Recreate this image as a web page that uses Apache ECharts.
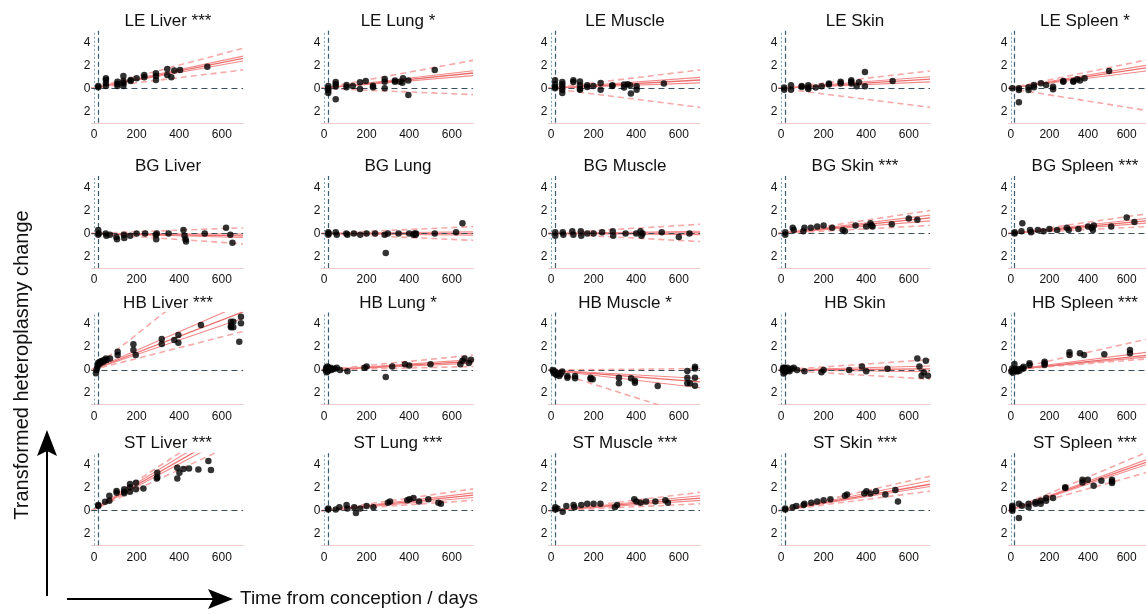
<!DOCTYPE html>
<html><head><meta charset="utf-8">
<script src="https://cdn.jsdelivr.net/npm/echarts@6/dist/echarts.min.js"></script>
<style>html,body{margin:0;padding:0;background:#fff}#c{width:1146px;height:614px}</style>
</head><body><div id="c"></div><script>
// ---------- data ----------
const rowNames = ['LE','BG','HB','ST'];
const colNames = ['Liver','Lung','Muscle','Skin','Spleen'];
const stars = [['***','*','','','*'],['','','','***','***'],['***','*','*','','***'],['***','***','***','***','***']];
const xTicks = [0,200,400,600];
const yTicks = [-2,0,2,4];
const birthDay = 20;
const fitX = [-12, 700];
const fitStart = 0;
// fit arrays: values at day 700 -> [dashLow, ciLow, fit, ciHigh, dashHigh]
const LE_Liver_t = [20,20,56,56,56,56,110,110,110,138,138,138,138,172,172,200,236,236,291,291,291,344,344,363,377,404,532];
const LE_Liver_v = [0.2,0.09,0.87,0.72,0.43,0.2,0.58,0.38,0.2,1.07,0.64,0.43,0.2,0.72,0.64,0.87,1.16,0.96,1.3,1.07,0.72,1.68,1.16,0.96,1.54,1.59,1.88];
const LE_Liver_fit = [1.6,2.38,2.6,2.8,3.48];
const LE_Lung_t = [20,20,20,20,55,55,55,55,106,106,135,169,169,196,230,230,285,285,285,333,333,357,368,371,396,396,520];
const LE_Lung_v = [0.2,0.0,-0.2,-0.4,0.55,0.35,0.15,-0.95,0.29,0.09,0.2,0.52,-0.06,0.64,0.23,0.09,0.81,0.58,0.0,0.67,0.58,0.58,0.49,0.87,0.67,-0.58,1.59];
const LE_Lung_fit = [-0.55,1.1,1.33,1.53,2.43];
const LE_Muscle_t = [19,19,19,19,53,53,53,53,53,105,105,136,136,136,136,170,170,199,233,233,288,288,343,343,360,371,375,402,402,530];
const LE_Muscle_v = [0.7,0.35,0.12,0.0,0.55,0.35,0.12,-0.12,-0.4,0.7,0.55,0.6,0.26,-0.03,-0.12,0.26,0.12,0.2,0.46,-0.12,0.26,0.2,0.32,0.06,0.35,0.26,-0.46,0.17,-0.12,0.41];
const LE_Muscle_fit = [-1.66,0.47,0.72,0.95,1.6];
const LE_Skin_t = [15,15,47,47,97,97,128,128,128,163,191,225,225,280,280,330,330,330,355,366,394,394,524];
const LE_Skin_v = [0.06,-0.12,0.26,-0.12,0.2,0.12,0.26,0.06,-0.06,0.06,0.17,0.41,0.32,0.58,0.41,0.7,0.55,0.41,0.17,0.52,1.42,0.17,0.64];
const LE_Skin_fit = [-1.66,0.56,0.8,1.01,1.51];
const LE_Spleen_t = [8,42,42,42,92,92,120,120,156,183,219,219,272,272,324,324,344,358,382,509];
const LE_Spleen_v = [0.0,0.0,-0.14,-1.22,0.09,-0.14,0.29,0.09,0.43,0.29,0.14,-0.09,0.64,0.58,0.64,0.58,0.78,0.67,0.87,1.51];
const LE_Spleen_fit = [-1.92,1.5,1.77,1.99,2.46];
const BG_Liver_t = [20,20,22,55,58,75,105,108,140,142,170,200,240,290,292,295,350,420,425,430,432,520,620,640,650];
const BG_Liver_v = [0.3,-0.1,0.0,0.0,-0.2,-0.1,-0.3,-0.5,-0.1,-0.4,-0.2,0.0,0.0,-0.1,-0.5,0.0,0.0,0.3,-0.2,-0.5,-0.7,0.0,0.5,-0.1,-0.8];
const BG_Liver_fit = [-0.9,-0.35,-0.2,-0.05,0.5];
const BG_Lung_t = [20,20,22,55,60,105,110,140,170,200,240,285,290,300,350,400,420,425,430,432,520,620,650];
const BG_Lung_v = [0.1,-0.1,0.0,0.1,-0.1,0.0,-0.1,0.0,-0.1,0.0,0.0,-0.1,-1.7,0.0,0.0,0.0,-0.1,0.0,-0.1,0.0,0.0,0.1,0.9];
const BG_Lung_fit = [-0.6,-0.15,0.0,0.15,0.6];
const BG_Muscle_t = [20,20,55,58,100,105,140,142,170,200,240,290,292,350,400,420,425,430,520,600,650];
const BG_Muscle_v = [0.1,-0.2,0.1,-0.1,0.2,-0.1,0.2,-0.2,0.0,0.0,0.1,0.2,-0.2,0.0,0.0,0.2,-0.2,0.0,0.1,-0.3,0.0];
const BG_Muscle_fit = [-0.7,-0.1,0.05,0.2,0.8];
const BG_Skin_t = [20,20,55,60,105,110,140,170,200,240,290,300,350,400,420,425,430,520,600,640];
const BG_Skin_v = [0.1,-0.1,0.5,0.3,0.2,0.5,0.5,0.6,0.7,0.5,0.3,0.2,0.7,0.6,0.9,0.7,0.6,0.8,1.3,1.2];
const BG_Skin_fit = [0.7,1.1,1.35,1.6,2.0];
const BG_Spleen_t = [20,20,55,60,100,105,140,170,200,240,290,300,350,400,420,425,430,520,600,640];
const BG_Spleen_v = [0.1,0.0,0.2,0.9,0.3,0.1,0.3,0.2,0.4,0.3,0.5,0.3,0.4,0.6,0.5,0.3,0.7,0.6,1.4,1.0];
const BG_Spleen_fit = [0.6,0.9,1.1,1.3,1.7];
const HB_Liver_t = [9,12,16,17,20,25,28,33,38,44,49,56,59,75,111,111,185,185,196,318,318,377,396,396,502,643,643,643,654,654,682,690,690];
const HB_Liver_v = [-0.29,0.0,0.23,0.43,0.64,0.52,0.72,0.64,0.81,0.72,0.87,1.01,0.87,1.01,1.59,1.3,2.23,1.74,1.3,2.7,2.26,2.61,3.04,2.38,3.91,4.2,3.83,3.71,4.2,3.71,2.46,4.64,4.06];
const HB_Liver_fit = [3.35,4.5,5.05,5.75,10.4];
const HB_Lung_t = [8,10,12,14,16,18,20,22,25,30,35,40,50,60,75,110,190,200,290,320,380,400,500,640,650,660,680,690];
const HB_Lung_v = [0,0.2,-0.2,0.1,0.3,-0.1,0.2,0,0.1,0.2,0,0.1,0.1,0.2,0,-0.1,0.2,0.3,-0.6,0.3,0.5,0.4,0.5,0.5,0.8,1.0,0.6,0.9];
const HB_Lung_fit = [0.3,0.6,0.75,0.9,1.3];
const HB_Muscle_t = [8,11,14,19,23,27,34,39,45,53,77,77,113,113,186,186,196,319,319,376,394,394,501,640,640,640,653,676,676,676,676];
const HB_Muscle_v = [0.0,-0.14,-0.29,-0.14,-0.35,-0.43,-0.29,-0.52,-0.35,-0.14,-0.52,-0.67,-0.52,-0.72,-0.67,-0.78,-0.81,-0.67,-1.16,-0.72,-0.93,-1.1,-1.39,-0.09,-0.67,-1.16,-1.16,0.29,0.14,-0.67,-1.36];
const HB_Muscle_fit = [-4.17,-1.55,-1.04,-0.74,0.12];
const HB_Skin_t = [8,10,12,14,16,18,20,22,25,30,35,40,50,60,75,110,190,200,320,380,400,500,640,650,660,670,680,690];
const HB_Skin_v = [0,0.2,-0.3,0.1,0.2,-0.2,0.1,-0.1,0.1,0.2,0,-0.1,0.1,0.2,0,-0.1,-0.2,0,0,0.3,-0.1,0.1,1.0,0.3,-0.5,-0.2,0.8,-0.5];
const HB_Skin_fit = [-0.8,-0.15,0.1,0.35,0.9];
const HB_Spleen_t = [3,8,11,16,19,23,27,34,39,45,58,66,66,97,97,175,175,175,304,304,358,379,484,617,617];
const HB_Spleen_v = [-0.14,0.14,-0.23,0.0,0.52,0.09,-0.09,-0.14,0.09,-0.06,0.14,0.29,0.14,0.58,0.43,0.72,0.58,0.43,1.54,1.3,1.45,1.3,1.36,1.74,1.45];
const HB_Spleen_fit = [0.96,1.12,1.28,1.53,2.66];
const ST_Liver_t = [20,20,52,72,72,106,106,142,142,142,169,169,169,197,197,232,295,297,297,391,391,401,420,446,490,537,549];
const ST_Liver_v = [0.49,0.41,0.78,1.3,0.87,1.71,1.57,1.86,1.65,1.51,2.32,2.03,1.65,2.43,1.86,1.94,2.81,2.9,3.3,3.74,2.81,3.3,3.62,3.68,3.59,4.32,3.54];
const ST_Liver_fit = [6.16,7.03,7.51,8.05,8.66];
const ST_Lung_t = [20,20,55,72,106,110,142,150,170,200,232,300,310,391,401,420,446,490,537,549];
const ST_Lung_v = [0.1,0.2,0.1,0.3,0.5,0.2,0.3,-0.2,0.2,0.4,0.3,0.7,0.8,0.9,1.0,1.1,0.8,1.0,0.7,0.6];
const ST_Lung_fit = [0.9,1.15,1.35,1.55,1.9];
const ST_Muscle_t = [20,20,30,55,72,106,110,142,170,200,232,300,310,391,401,420,446,490,537,549];
const ST_Muscle_v = [0.1,0.3,0.2,-0.1,0.4,0.5,0.3,0.5,0.6,0.6,0.6,0.3,0.5,1.0,0.8,0.7,0.8,0.8,0.9,0.7];
const ST_Muscle_fit = [0.6,0.9,1.1,1.3,1.6];
const ST_Skin_t = [20,20,55,72,106,110,142,170,200,232,300,310,391,401,420,446,490,537,549];
const ST_Skin_v = [0.1,0.2,0.3,0.4,0.5,0.6,0.7,0.8,0.9,1.0,1.3,1.4,1.5,1.7,1.5,1.7,1.4,1.8,0.8];
const ST_Skin_fit = [1.7,2.1,2.3,2.6,3.0];
const ST_Spleen_t = [8,8,8,8,42,42,58,92,92,128,128,155,155,183,183,219,282,282,371,371,399,429,469,524,524,524];
const ST_Spleen_v = [0.43,0.32,0.14,0.0,0.61,-0.64,0.43,0.61,0.29,0.75,0.61,0.87,0.61,1.1,0.87,1.1,2.03,1.97,2.7,2.46,2.7,2.17,2.61,2.7,2.55,2.41];
const ST_Spleen_fit = [3.3,4.0,4.2,4.42,5.06];

const panelData = {
  LE_Liver:[LE_Liver_t,LE_Liver_v,LE_Liver_fit], LE_Lung:[LE_Lung_t,LE_Lung_v,LE_Lung_fit],
  LE_Muscle:[LE_Muscle_t,LE_Muscle_v,LE_Muscle_fit], LE_Skin:[LE_Skin_t,LE_Skin_v,LE_Skin_fit],
  LE_Spleen:[LE_Spleen_t,LE_Spleen_v,LE_Spleen_fit],
  BG_Liver:[BG_Liver_t,BG_Liver_v,BG_Liver_fit], BG_Lung:[BG_Lung_t,BG_Lung_v,BG_Lung_fit],
  BG_Muscle:[BG_Muscle_t,BG_Muscle_v,BG_Muscle_fit], BG_Skin:[BG_Skin_t,BG_Skin_v,BG_Skin_fit],
  BG_Spleen:[BG_Spleen_t,BG_Spleen_v,BG_Spleen_fit],
  HB_Liver:[HB_Liver_t,HB_Liver_v,HB_Liver_fit], HB_Lung:[HB_Lung_t,HB_Lung_v,HB_Lung_fit],
  HB_Muscle:[HB_Muscle_t,HB_Muscle_v,HB_Muscle_fit], HB_Skin:[HB_Skin_t,HB_Skin_v,HB_Skin_fit],
  HB_Spleen:[HB_Spleen_t,HB_Spleen_v,HB_Spleen_fit],
  ST_Liver:[ST_Liver_t,ST_Liver_v,ST_Liver_fit], ST_Lung:[ST_Lung_t,ST_Lung_v,ST_Lung_fit],
  ST_Muscle:[ST_Muscle_t,ST_Muscle_v,ST_Muscle_fit], ST_Skin:[ST_Skin_t,ST_Skin_v,ST_Skin_fit],
  ST_Spleen:[ST_Spleen_t,ST_Spleen_v,ST_Spleen_fit]
};

// ---------- layout ----------
const colX0 = [94, 324, 551, 781, 1011];   // pixel of day 0
const rowY0 = [88.3, 233.5, 370, 510.7];   // pixel of value 0
const pxPerDay = 0.213, pxPerUnit = 11.5;
const yMin = -3, yMax = 5;
const FONT = "'Liberation Sans', Arial, Helvetica, sans-serif";

const grids = [], xAxes = [], yAxes = [], series = [], graphics = [];
let gi = 0;
rowNames.forEach((rn, r) => {
  colNames.forEach((cn, c) => {
    const key = rn + '_' + cn;
    const [ts, vs, fit] = panelData[key];
    const left = colX0[c] + fitX[0] * pxPerDay;
    const width = (fitX[1] - fitX[0]) * pxPerDay;
    const top = rowY0[r] - yMax * pxPerUnit;
    const height = (yMax - yMin) * pxPerUnit;
    grids.push({ left, top, width, height, containLabel: false });
    xAxes.push({
      gridIndex: gi, type: 'value', min: fitX[0], max: fitX[1],
      axisLine: { show: true, onZero: false, lineStyle: { color: '#efcaca', width: 1.2 } },
      axisTick: { show: false }, splitLine: { show: false },
      axisLabel: { customValues: xTicks, margin: 6, fontSize: 12, color: '#111', fontFamily: FONT }
    });
    yAxes.push({
      gridIndex: gi, type: 'value', min: yMin, max: yMax,
      axisLine: { show: false }, axisTick: { show: false }, splitLine: { show: false },
      axisLabel: { customValues: yTicks, margin: 1, fontSize: 12, color: '#111', fontFamily: FONT,
        formatter: v => String(Math.abs(v)) }
    });
    const styles = [
      { color: '#f6a9a9', type: [6, 4], width: 1.6 },
      { color: '#f28a8a', type: 'solid', width: 1.1 },
      { color: '#ee6e6e', type: 'solid', width: 1.3 },
      { color: '#f28a8a', type: 'solid', width: 1.1 },
      { color: '#f6a9a9', type: [6, 4], width: 1.6 }
    ];
    fit.forEach((endV, k) => {
      series.push({
        type: 'line', xAxisIndex: gi, yAxisIndex: gi, symbol: 'none', silent: true, clip: true,
        lineStyle: styles[k], z: 2,
        data: [[fitX[0], fitStart], [fitX[1], endV]]
      });
    });
    series.push({
      type: 'scatter', xAxisIndex: gi, yAxisIndex: gi, symbolSize: 6.5, z: 5,
      itemStyle: { color: '#000' },
      data: ts.map((t, i) => [t, vs[i]]),
      markLine: {
        silent: true, symbol: 'none', label: { show: false }, animation: false,
        data: [
          { xAxis: 0, lineStyle: { color: '#7fa9bb', type: [2, 2], width: 1 } },
          { xAxis: birthDay, lineStyle: { color: '#3f5f6f', type: [5, 3], width: 1.2 } },
          { yAxis: 0, lineStyle: { color: '#3d4f5c', type: [6, 4], width: 1.2 } }
        ]
      }
    });
    graphics.push({
      type: 'text', x: colX0[c] + 74, y: rowY0[r] - 67,
      style: { text: rn + ' ' + cn + (stars[r][c] ? ' ' + stars[r][c] : ''), fill: '#111',
        font: '17px ' + FONT, textAlign: 'center', textVerticalAlign: 'middle' }
    });
    gi++;
  });
});

graphics.push({ type: 'text', x: 22, y: 365, rotation: Math.PI / 2,
  style: { text: 'Transformed heteroplasmy change', fill: '#111', font: '20px ' + FONT,
    textAlign: 'center', textVerticalAlign: 'middle' } });
graphics.push({ type: 'line', shape: { x1: 47, y1: 596, x2: 47, y2: 448 }, style: { stroke: '#000', lineWidth: 2 } });
graphics.push({ type: 'polygon', shape: { points: [[47, 430], [37, 456], [47, 451], [57, 456]] }, style: { fill: '#000' } });
graphics.push({ type: 'line', shape: { x1: 67, y1: 599, x2: 216, y2: 599 }, style: { stroke: '#000', lineWidth: 2 } });
graphics.push({ type: 'polygon', shape: { points: [[233, 599], [208, 589], [213, 599], [208, 609]] }, style: { fill: '#000' } });
graphics.push({ type: 'text', x: 240, y: 599,
  style: { text: 'Time from conception / days', fill: '#111', font: '19px ' + FONT,
    textAlign: 'left', textVerticalAlign: 'middle' } });

const chart = echarts.init(document.getElementById('c'), null, { renderer: 'canvas' });
chart.setOption({
  animation: false, backgroundColor: '#fff',
  grid: grids, xAxis: xAxes, yAxis: yAxes, series, graphic: graphics
});
</script></body></html>
